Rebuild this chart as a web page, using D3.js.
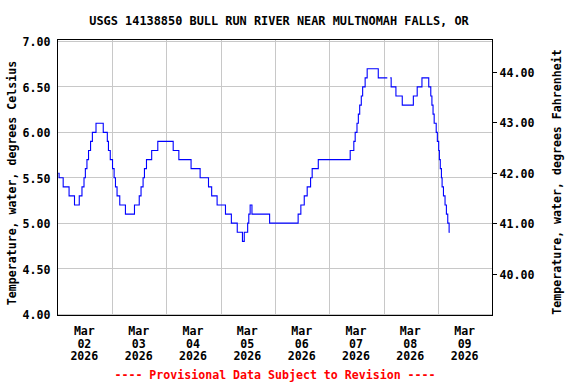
<!doctype html>
<html lang="en">
  <head>
    <meta charset="UTF-8" />
    <title>USGS 14138850 Bull Run River - water temperature</title>
    <style>
      body {
        margin: 0;
        background: #fff;
      }

      svg {
        display: block;
      }

      text {
        font-family: "DejaVu Sans Mono", "Liberation Mono", monospace;
        font-weight: bold;
        fill: #000;
      }
    </style>
  </head>
  <body>
    <svg id="chart" width="576" height="384"></svg>

    <script src="https://d3js.org/d3.v7.min.js"></script>
    <script>
      const title = "USGS 14138850 BULL RUN RIVER NEAR MULTNOMAH FALLS, OR";
      const leftTitle = "Temperature, water, degrees Celsius";
      const rightTitle = "Temperature, water, degrees Fahrenheit";
      const footer = "---- Provisional Data Subject to Revision ----";

      // day labels under the plot (one per day, Mar 2 .. Mar 9)
      const dayMonth = "Mar";
      const dayNumbers = ["02", "03", "04", "05", "06", "07", "08", "09"];
      const dayYear = "2026";

      const celsiusTicks = [4.0, 4.5, 5.0, 5.5, 6.0, 6.5, 7.0];
      const fahrenheitTicks = [40, 41, 42, 43, 44];

      // hours after Mar 2 2026 00:00 where the reading changes, and the new reading (deg C)
      // null = missing data
      const hours = [
        0, 0.4, 2.2, 4.8, 7.2, 9.3, 10.5, 11.4, 12.0, 12.7, 13.4, 14.3, 15.1,
        16.7, 19.9, 21.7, 22.2, 23.0, 24.0, 24.7, 25.3, 26.0, 27.2, 29.7, 33.7,
        35.8, 36.6, 37.5, 38.1, 39.0, 41.3, 44.0, 50.8, 53.3, 58.7, 62.7, 66.4,
        67.8, 70.2, 73.9, 76.5, 79.1, 81.4, 82.2, 83.7, 84.2, 84.8, 85.6, 93.4,
        106.0, 107.2, 108.7, 110.0, 111.5, 112.2, 114.9, 129.0, 130.6, 131.2,
        132.0, 132.6, 133.2, 133.9, 134.5, 135.6, 136.5, 141.4, 145.4, 145.5,
        146.7, 147.1, 149.2, 152.0, 156.9, 158.6, 160.7, 163.7, 164.6, 165.1,
        165.6, 166.1, 167.0, 167.5, 168.1, 168.4, 168.8, 169.3, 169.6, 170.2,
        170.9, 171.5, 172.1, 172.7, 173.0,
      ];
      const tempC = [
        5.55, 5.5, 5.4, 5.3, 5.2, 5.3, 5.4, 5.5, 5.6, 5.7, 5.8, 5.9, 6.0,
        6.1, 6.0, 5.9, 5.8, 5.7, 5.6, 5.5, 5.4, 5.3, 5.2, 5.1, 5.2,
        5.3, 5.4, 5.5, 5.6, 5.7, 5.8, 5.9, 5.8, 5.7, 5.6, 5.5, 5.4,
        5.3, 5.2, 5.1, 5.0, 4.9, 4.8, 4.9, 5.0, 5.1, 5.2, 5.1, 5.0,
        5.1, 5.2, 5.3, 5.4, 5.5, 5.6, 5.7, 5.8, 5.9, 6.0,
        6.1, 6.2, 6.3, 6.4, 6.5, 6.6, 6.7, 6.6, 6.6, null,
        6.6, 6.5, 6.4, 6.3, 6.4, 6.5, 6.6, 6.5, 6.4, 6.3,
        6.2, 6.1, 6.0, 5.9, 5.8, 5.7, 5.6, 5.5, 5.4, 5.3,
        5.2, 5.1, 5.0, 4.9, 4.9,
      ];

      const start = Date.UTC(2026, 2, 2);
      const HOUR = 3600 * 1000;
      const DAY = 24 * HOUR;

      const svg = d3.select("#chart");

      const x = d3
        .scaleUtc()
        .domain([new Date(start), new Date(start + 8 * DAY)])
        .range([58.2, 492.8]);

      const yC = d3.scaleLinear().domain([4, 7]).range([314, 41.5]);
      const toC = (f) => ((f - 32) * 5) / 9;
      const yF = d3
        .scaleLinear()
        .domain([40, 44])
        .range([yC(toC(40)), yC(toC(44))]);

      const frame = { left: 57.5, right: 492.5, top: 39.5, bottom: 315.5 };
      const crisp = (v) => Math.floor(v) + 0.5;

      // grid
      const grid = svg
        .append("g")
        .attr("stroke", "#c8c8c8")
        .attr("stroke-width", 1)
        .attr("shape-rendering", "crispEdges");

      grid
        .selectAll("line.h")
        .data(celsiusTicks)
        .join("line")
        .attr("class", "h")
        .attr("x1", frame.left)
        .attr("x2", frame.right)
        .attr("y1", (d) => crisp(yC(d)))
        .attr("y2", (d) => crisp(yC(d)));

      grid
        .selectAll("line.v")
        .data(d3.range(1, 8))
        .join("line")
        .attr("class", "v")
        .attr("x1", (d) => crisp(x(new Date(start + d * DAY))))
        .attr("x2", (d) => crisp(x(new Date(start + d * DAY))))
        .attr("y1", frame.top)
        .attr("y2", frame.bottom);

      // data line
      const points = hours.map((h, i) => ({
        t: new Date(start + h * HOUR),
        c: tempC[i],
      }));

      const line = d3
        .line()
        .defined((d) => d.c != null)
        .x((d) => x(d.t))
        .y((d) => yC(d.c))
        .curve(d3.curveStepAfter);

      svg
        .append("path")
        .datum(points)
        .attr("fill", "none")
        .attr("stroke", "#0000ff")
        .attr("stroke-width", 1.1)
        .attr("d", line);

      // frame
      svg
        .append("rect")
        .attr("x", frame.left)
        .attr("y", frame.top)
        .attr("width", frame.right - frame.left)
        .attr("height", frame.bottom - frame.top)
        .attr("fill", "none")
        .attr("stroke", "#000")
        .attr("shape-rendering", "crispEdges");

      // left axis (labels only)
      const leftAxis = svg
        .append("g")
        .attr("transform", `translate(${frame.left},0)`)
        .call(
          d3
            .axisLeft(yC)
            .tickValues(celsiusTicks)
            .tickSize(0)
            .tickPadding(7)
            .tickFormat(d3.format(".2f")),
        );
      leftAxis.select(".domain").remove();
      leftAxis
        .selectAll("text")
        .attr("font-family", null)
        .style("font-size", "11.6px")
        .attr("dy", "0.38em");

      // right axis, Fahrenheit
      const rightAxis = svg
        .append("g")
        .attr("transform", `translate(${frame.right},0)`)
        .call(
          d3
            .axisRight(yF)
            .tickValues(fahrenheitTicks)
            .tickSize(4)
            .tickPadding(3)
            .tickFormat(d3.format(".2f")),
        );
      rightAxis.select(".domain").remove();
      rightAxis
        .selectAll("line")
        .attr("stroke", "#000")
        .attr("shape-rendering", "crispEdges");
      rightAxis
        .selectAll("text")
        .style("font-size", "11.6px")
        .attr("dy", "0.38em");

      // day labels
      const dayLabel = svg
        .append("g")
        .selectAll("text")
        .data(dayNumbers)
        .join("text")
        .attr("text-anchor", "middle")
        .style("font-size", "11.6px");
      dayLabel.each(function (d, i) {
        const cx = x(new Date(start + i * DAY + 12 * HOUR)) - 1;
        const t = d3.select(this);
        [dayMonth, d, dayYear].forEach((s, k) => {
          t.append("tspan")
            .attr("x", cx)
            .attr("y", 335 + k * 12.5)
            .text(s);
        });
      });

      // titles
      svg
        .append("text")
        .attr("x", 279)
        .attr("y", 25)
        .attr("text-anchor", "middle")
        .style("font-size", "11.9px")
        .text(title);

      svg
        .append("text")
        .attr("transform", "translate(16,183) rotate(-90)")
        .attr("text-anchor", "middle")
        .style("font-size", "11.6px")
        .text(leftTitle);

      svg
        .append("text")
        .attr("transform", "translate(561,182) rotate(-90)")
        .attr("text-anchor", "middle")
        .style("font-size", "11.6px")
        .text(rightTitle);

      svg
        .append("text")
        .attr("x", 275)
        .attr("y", 379)
        .attr("text-anchor", "middle")
        .style("font-size", "11.6px")
        .style("fill", "#ff0000")
        .text(footer);
    </script>
  </body>
</html>
